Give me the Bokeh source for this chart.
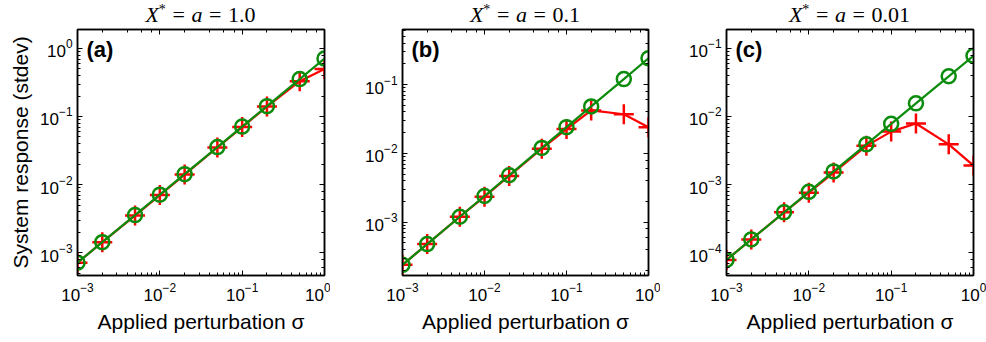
from bokeh.plotting import figure
from bokeh.models import Range1d, LogAxis, Label, Div
from bokeh.layouts import row, column
from bokeh.embed import file_html
from bokeh.resources import INLINE

sigma = [0.001, 0.002, 0.005, 0.01, 0.02, 0.05, 0.1, 0.2, 0.5, 1.0]

a_green = [7.1e-4, 1.42e-3, 3.55e-3, 7.1e-3, 1.42e-2, 3.55e-2, 7.1e-2, 0.142, 0.355, 0.71]
a_red = [7.1e-4, 1.42e-3, 3.5e-3, 7.0e-3, 1.4e-2, 3.5e-2, 7.0e-2, 0.14, 0.33, 0.50]

b_green = [2.4e-4, 4.8e-4, 1.2e-3, 2.4e-3, 4.8e-3, 1.2e-2, 2.4e-2, 4.8e-2, 0.12, 0.24]
b_red = [2.4e-4, 4.8e-4, 1.2e-3, 2.35e-3, 4.7e-3, 1.17e-2, 2.25e-2, 4.2e-2, 3.7e-2, 2.4e-2]

c_green = [7.8e-5, 1.56e-4, 3.9e-4, 7.8e-4, 1.56e-3, 3.9e-3, 7.8e-3, 1.56e-2, 3.9e-2, 7.8e-2]
c_red = [7.8e-5, 1.56e-4, 3.9e-4, 7.6e-4, 1.5e-3, 3.7e-3, 6.0e-3, 7.9e-3, 3.9e-3, 1.9e-3]

panel_letters = ["(a)", "(b)", "(c)"]
titles_value = ["1.0", "0.1", "0.01"]
y_ranges = [(4.6e-4, 1.9), (1.68e-4, 0.63), (4.6e-5, 0.19)]
xlabel = "Applied perturbation \u03c3"
ylabel = "System response (stdev)"

RED = "#ff0000"
GREEN = "#0c8c0c"
SANS = "Liberation Sans"

layouts = [
    # width, border_left, border_right
    (330, 77, 6),
    (330, 72, 12),
    (326, 66, 13),
]
FIG_H = 315
DIV_H = 27


def style_axis(ax, labels=True):
    ax.axis_line_color = "black"
    ax.axis_line_width = 1.5
    ax.major_tick_line_color = "black"
    ax.minor_tick_line_color = "black"
    ax.major_tick_in = 5
    ax.major_tick_out = 0
    ax.minor_tick_in = 3
    ax.minor_tick_out = 0
    ax.major_tick_line_width = 1
    ax.minor_tick_line_width = 1
    if labels:
        ax.major_label_text_font = SANS
        ax.major_label_text_font_size = "17px"
        ax.major_label_text_color = "black"
        ax.major_label_standoff = 7
    else:
        ax.major_label_text_font_size = "1px"
        ax.major_label_text_alpha = 0
        ax.major_label_standoff = 0


def make_panel(i, green, red):
    w, bl, br = layouts[i]
    p = figure(
        width=w, height=FIG_H,
        x_axis_type="log", y_axis_type="log",
        x_range=Range1d(1e-3, 1.0), y_range=Range1d(*y_ranges[i]),
        min_border_left=bl, min_border_right=br,
        min_border_top=2, min_border_bottom=67,
        output_backend="svg", toolbar_location=None,
    )
    p.background_fill_color = "white"
    p.border_fill_color = "white"
    p.outline_line_color = "black"
    p.outline_line_width = 1.5
    p.xgrid.visible = False
    p.ygrid.visible = False

    style_axis(p.xaxis[0])
    style_axis(p.yaxis[0])
    p.yaxis[0].major_label_standoff = 5
    p.xaxis[0].axis_label = xlabel
    p.xaxis[0].axis_label_text_font = SANS
    p.xaxis[0].axis_label_text_font_size = "21px"
    p.xaxis[0].axis_label_text_font_style = "normal"
    p.xaxis[0].axis_label_text_color = "black"
    p.xaxis[0].axis_label_standoff = 6
    if i == 0:
        p.yaxis[0].axis_label = ylabel
        p.yaxis[0].axis_label_text_font = SANS
        p.yaxis[0].axis_label_text_font_size = "21px"
        p.yaxis[0].axis_label_text_font_style = "normal"
        p.yaxis[0].axis_label_text_color = "black"
        p.yaxis[0].axis_label_standoff = 5

    top = LogAxis()
    right = LogAxis()
    style_axis(top, labels=False)
    style_axis(right, labels=False)
    p.add_layout(top, "above")
    p.add_layout(right, "right")

    p.line(sigma, red, line_color=RED, line_width=2.2)
    p.scatter(sigma, red, marker="cross", size=20, line_color=RED, line_width=2.5)
    p.line(sigma, green, line_color=GREEN, line_width=2.2)
    p.scatter(sigma, green, marker="circle", size=14, line_color=GREEN,
              line_width=2.5, fill_color=None)

    lab = Label(x=9, y=246 - 7, x_units="screen", y_units="screen",
                text=panel_letters[i], text_font=SANS, text_font_size="22px",
                text_font_style="bold", text_color="black",
                text_baseline="top", text_align="left")
    p.add_layout(lab)

    fw = w - bl - br
    html = (
        f'<div style="width:{fw}px;margin-left:{bl}px;text-align:center;'
        f"font-family:'Liberation Serif';font-size:22px;line-height:22px;"
        f'padding-top:4px;color:black;white-space:nowrap">'
        f'<i>X</i><sup style="font-size:14px;line-height:0">*</sup>'
        f'<span style="margin:0 0.3em">=</span><i>a</i>'
        f'<span style="margin:0 0.3em">=</span>{titles_value[i]}</div>'
    )
    d = Div(text=html, width=w, height=DIV_H, margin=0)
    return column(d, p, spacing=0)


panels = [
    make_panel(0, a_green, a_red),
    make_panel(1, b_green, b_red),
    make_panel(2, c_green, c_red),
]
layout = row(*panels, spacing=0)

open("out.html", "w").write(file_html(layout, INLINE))
